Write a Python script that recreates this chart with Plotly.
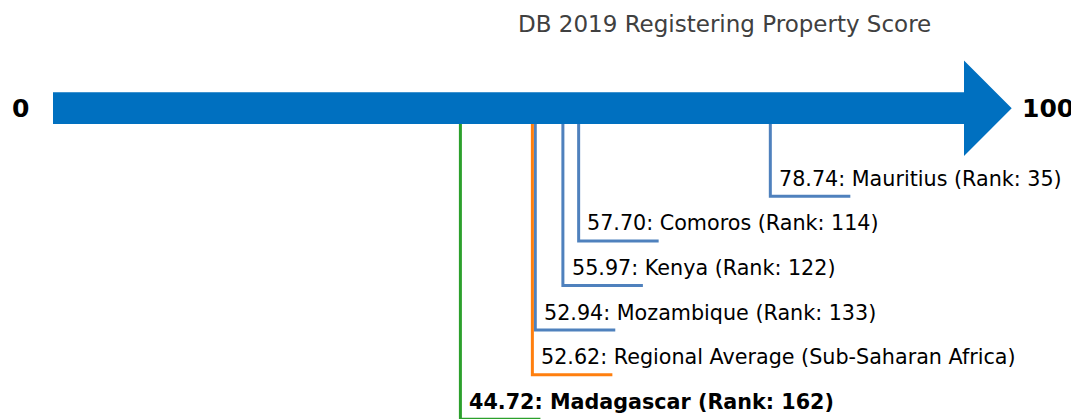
import plotly.graph_objects as go

# ---- data ----
TITLE = "DB 2019 Registering Property Score"
AXIS_MIN = 0
AXIS_MAX = 100
economies = ["Mauritius", "Comoros", "Kenya", "Mozambique",
             "Regional Average (Sub-Saharan Africa)", "Madagascar"]
scores = [78.74, 57.70, 55.97, 52.94, 52.62, 44.72]
ranks = [35, 114, 122, 133, None, 162]
kinds = ["peer", "peer", "peer", "peer", "region", "focus"]

# ---- styles / layout ----
W, H = 1071, 419
X0_PX = 53.0          # pixel of score 0
PX_PER_UNIT = 9.11    # pixels per score unit
ARROW_COLOR = "#0070C0"
KIND_COLOR = {"peer": "#4F81BD", "region": "#FF7F0E", "focus": "#2CA02C"}
FONT = "DejaVu Sans, Verdana, sans-serif"


def px(n):
    """pixel length -> score units"""
    return n / PX_PER_UNIT


x_range = [-X0_PX / PX_PER_UNIT, (W - X0_PX) / PX_PER_UNIT]

bar_center = 108.2
bar_half = 15.9
head_half = 47.7
head_len = px(47.7)

fig = go.Figure()

# arrow body + head polygon
ax = [AXIS_MIN, AXIS_MAX, AXIS_MAX, AXIS_MAX + head_len, AXIS_MAX, AXIS_MAX, AXIS_MIN, AXIS_MIN]
ay = [bar_center - bar_half, bar_center - bar_half, bar_center - head_half, bar_center,
      bar_center + head_half, bar_center + bar_half, bar_center + bar_half, bar_center - bar_half]
fig.add_trace(go.Scatter(x=ax, y=ay, mode="lines", fill="toself", fillcolor=ARROW_COLOR,
                         line=dict(width=0, color=ARROW_COLOR), hoverinfo="skip", showlegend=False))

# leader lines and labels, ordered by score (highest nearest the arrow)
order = sorted(range(len(scores)), key=lambda i: -scores[i])
row_top = 196.3
row_gap = 44.6
bar_bottom = bar_center + bar_half
annotations = []
for row, i in enumerate(order):
    v = scores[i]
    level = row_top + row * row_gap
    color = KIND_COLOR[kinds[i]]
    fig.add_trace(go.Scatter(x=[v, v, v + px(80)], y=[bar_bottom, level, level], mode="lines",
                             line=dict(color=color, width=3), hoverinfo="skip", showlegend=False))
    if ranks[i] is None:
        txt = f"{v:.2f}: {economies[i]}"
    else:
        txt = f"{v:.2f}: {economies[i]} (Rank: {ranks[i]})"
    bold = kinds[i] == "focus"
    if bold:
        txt = f"<b>{txt}</b>"
    annotations.append(dict(x=v + px(6.8), y=level - 17.6, xref="x", yref="y", text=txt,
                            showarrow=False, xanchor="left", yanchor="middle",
                            font=dict(family=FONT, size=20.7, color="#000000")))

# end labels
annotations.append(dict(x=px(20.5 - X0_PX), y=bar_center, xref="x", yref="y",
                        text=f"<b>{AXIS_MIN}</b>", showarrow=False, xanchor="center", yanchor="middle",
                        font=dict(family=FONT, size=25, color="#000000")))
annotations.append(dict(x=px(1020.0 - X0_PX), y=bar_center, xref="x", yref="y",
                        text=f"<b>{AXIS_MAX}</b>", showarrow=False, xanchor="left", yanchor="middle",
                        font=dict(family=FONT, size=25, color="#000000")))
# title
annotations.append(dict(x=724 / W, y=23.5, xref="paper", yref="y", text=TITLE,
                        showarrow=False, xanchor="center", yanchor="middle",
                        font=dict(family=FONT, size=23, color="#404040")))

fig.update_layout(
    width=W, height=H,
    margin=dict(l=0, r=0, t=0, b=0),
    paper_bgcolor="white", plot_bgcolor="white",
    xaxis=dict(range=x_range, visible=False, fixedrange=True),
    yaxis=dict(range=[H, 0], visible=False, fixedrange=True),
    annotations=annotations,
    showlegend=False,
)

fig.write_html("out.html", config={"displayModeBar": False},
               post_script="document.body.style.margin='0';document.body.style.overflow='hidden';")
